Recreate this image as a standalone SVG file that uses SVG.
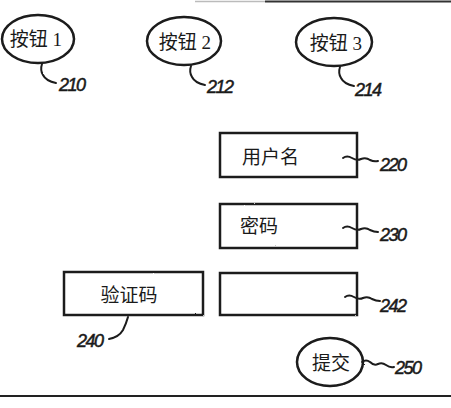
<svg xmlns="http://www.w3.org/2000/svg" width="451" height="408" viewBox="0 0 451 408">
<defs>
<style>
.shape{fill:none;stroke:#1a1a1a;stroke-width:2.5}
.lead{fill:none;stroke:#1a1a1a;stroke-width:2;stroke-linecap:round}
.lbl{font-family:"Liberation Serif","Noto Sans CJK SC",serif;font-size:19px;fill:#1a1a1a}
.num{font-family:"Liberation Sans",Arial,sans-serif;font-size:18px;font-style:italic;fill:#1a1a1a;stroke:#1a1a1a;stroke-width:0.5;letter-spacing:-1.5px}
</style>
<filter id="rough" x="-5%" y="-5%" width="110%" height="110%">
<feTurbulence type="fractalNoise" baseFrequency="0.9" numOctaves="1" seed="3" result="n"/>
<feDisplacementMap in="SourceGraphic" in2="n" scale="1.6" xChannelSelector="R" yChannelSelector="G"/>
</filter>
</defs>
<rect width="451" height="408" fill="#ffffff"/>
<g id="frame" filter="url(#rough)">
<line x1="195" y1="1.5" x2="265" y2="1.5" stroke="#bbbbbb" stroke-width="1.5"/>
<line x1="265" y1="1.5" x2="451" y2="1.5" stroke="#333333" stroke-width="2"/>
<line x1="0" y1="396" x2="451" y2="396" stroke="#222222" stroke-width="2.2"/>
</g>
<g id="connectors" filter="url(#rough)">
<path class="lead" d="M42,64 q-2,6 1,11 q3,6 13,8"/>
<path class="lead" d="M191,66 q-2,6 1,11 q3,6 13,8"/>
<path class="lead" d="M340,67 q-2,6 1,11 q3,6 13,8"/>
<path class="lead" d="M343,158 q4,-3 9,0 q5,3 9,1 q5,-2 9,1 q4,2 8,1"/>
<path class="lead" d="M343,228 q4,-3 9,0 q5,3 9,1 q5,-2 9,1 q4,2 8,2"/>
<path class="lead" d="M345,297 q4,-3 9,0 q5,3 9,1 q5,-2 9,1 q4,2 8,2"/>
<path class="lead" d="M128,317 q-2,7 -5,13 q-4,7 -14,9"/>
<path class="lead" d="M362,362 q4,-3 8,0 q4,4 8,2 q4,-2 8,1 q4,3 8,2"/>
</g>
<g id="btn1">
<ellipse class="shape" cx="38" cy="39" rx="36" ry="24" filter="url(#rough)"/>
<text class="lbl" x="36" y="39" text-anchor="middle" dominant-baseline="central">按钮 1</text>
<text class="num" x="59" y="91">210</text>
</g>
<g id="btn2">
<ellipse class="shape" cx="184" cy="41" rx="37" ry="24" filter="url(#rough)"/>
<text class="lbl" x="185" y="42" text-anchor="middle" dominant-baseline="central">按钮 2</text>
<text class="num" x="207" y="93">212</text>
</g>
<g id="btn3">
<ellipse class="shape" cx="334" cy="42" rx="38" ry="24" filter="url(#rough)"/>
<text class="lbl" x="336" y="43" text-anchor="middle" dominant-baseline="central">按钮 3</text>
<text class="num" x="355" y="96">214</text>
</g>
<g id="username">
<rect class="shape" x="220" y="133" width="137" height="44" filter="url(#rough)"/>
<text class="lbl" x="242" y="157" dominant-baseline="central">用户名</text>
<text class="num" x="380" y="171">220</text>
</g>
<g id="password">
<rect class="shape" x="220" y="204" width="137" height="44" filter="url(#rough)"/>
<text class="lbl" x="240" y="226" dominant-baseline="central">密码</text>
<text class="num" x="380" y="241">230</text>
</g>
<g id="captcha">
<rect class="shape" x="64" y="272" width="139" height="43" filter="url(#rough)"/>
<text class="lbl" x="129" y="295" text-anchor="middle" dominant-baseline="central">验证码</text>
<text class="num" x="77" y="347">240</text>
</g>
<g id="captcha-input">
<rect class="shape" x="220" y="273" width="137" height="42" filter="url(#rough)"/>
<text class="num" x="380" y="312">242</text>
</g>
<g id="submit">
<ellipse class="shape" cx="330" cy="362" rx="33" ry="24" filter="url(#rough)"/>
<text class="lbl" x="331" y="363" text-anchor="middle" dominant-baseline="central">提交</text>
<text class="num" x="395" y="374">250</text>
</g>
</svg>
